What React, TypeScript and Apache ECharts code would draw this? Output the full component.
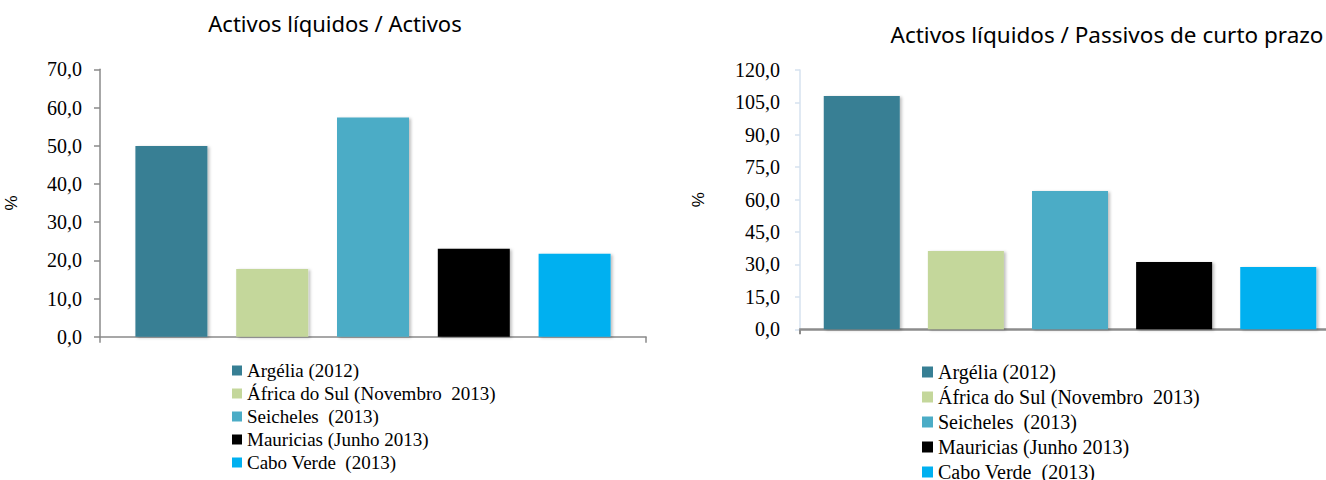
import React, { useEffect, useRef } from "react";
import * as echarts from "echarts";

const seriesNames = [
  "Argélia (2012)",
  "África do Sul (Novembro  2013)",
  "Seicheles  (2013)",
  "Mauricias (Junho 2013)",
  "Cabo Verde  (2013)",
];
const seriesColors = ["#377f94", "#c4d79b", "#4bacc6", "#000000", "#00b0f0"];
const categories = [""];
const liquidToAssets = [49.9, 17.7, 57.4, 23.0, 21.7];
const liquidToShortTerm = [108.0, 36.2, 64.0, 31.1, 28.8];
const titles = ["Activos líquidos / Activos", "Activos líquidos / Passivos de curto prazo"];
const yLeft = { min: 0, max: 70, interval: 10 };
const yRight = { min: 0, max: 120, interval: 15 };

const fmt = (v: number) => v.toFixed(1).replace(".", ",");

export default function App() {
  const ref = useRef<HTMLDivElement>(null);
  useEffect(() => {
    if (!ref.current) return;
    const chart = echarts.init(ref.current, null, { renderer: "svg" });
    const serif = "Liberation Serif";
    const mkSeries = (vals: number[], idx: number, bw: number, gap: string) =>
      vals.map((v, i) => ({
        type: "bar",
        name: seriesNames[i],
        xAxisIndex: idx,
        yAxisIndex: idx,
        data: [v],
        barWidth: bw,
        barGap: gap,
        itemStyle: {
          color: seriesColors[i],
          shadowColor: "rgba(0,0,0,0.25)",
          shadowBlur: 3,
          shadowOffsetX: 2,
          shadowOffsetY: 1,
        },
      }));
    chart.setOption({
      animation: false,
      grid: [
        { left: 100, top: 69.3, width: 546, height: 267.4 },
        { left: 800, top: 70, width: 540, height: 259.3 },
      ],
      xAxis: [
        {
          type: "category",
          gridIndex: 0,
          data: categories,
          axisLine: { lineStyle: { color: "#8a8a8a", width: 1.5 } },
          axisTick: { show: true, length: 6, lineStyle: { color: "#8a8a8a", width: 1.5 } },
          axisLabel: { show: false },
        },
        {
          type: "category",
          gridIndex: 1,
          data: categories,
          axisLine: { lineStyle: { color: "#8c8c8c", width: 2.5 } },
          axisTick: { show: true, length: 5, lineStyle: { color: "#8c8c8c", width: 2 } },
          axisLabel: { show: false },
        },
      ],
      yAxis: [
        {
          type: "value",
          gridIndex: 0,
          ...yLeft,
          name: "%",
          nameLocation: "middle",
          nameRotate: 90,
          nameGap: 80,
          nameTextStyle: { fontFamily: "Liberation Sans", fontSize: 17, color: "#000" },
          axisLine: { show: true, lineStyle: { color: "#8a8a8a", width: 1.5 } },
          axisTick: { show: true, length: 6, lineStyle: { color: "#8a8a8a", width: 1.5 } },
          splitLine: { show: false },
          axisLabel: { formatter: fmt, fontFamily: serif, fontSize: 20, color: "#000", margin: 18 },
        },
        {
          type: "value",
          gridIndex: 1,
          ...yRight,
          name: "%",
          nameLocation: "middle",
          nameRotate: 90,
          nameGap: 93,
          nameTextStyle: { fontFamily: "Liberation Sans", fontSize: 17, color: "#000" },
          axisLine: { show: true, lineStyle: { color: "#d6e2ef", width: 1.5 } },
          axisTick: { show: true, length: 5, lineStyle: { color: "#d6e2ef", width: 1.5 } },
          splitLine: { show: false },
          axisLabel: { formatter: fmt, fontFamily: serif, fontSize: 20, color: "#000", margin: 20 },
        },
      ],
      legend: [
        {
          orient: "vertical",
          left: 227,
          top: 356,
          itemWidth: 10,
          itemHeight: 10,
          itemGap: 4,
          icon: "rect",
          data: seriesNames,
          textStyle: { fontFamily: serif, fontSize: 19, lineHeight: 19, color: "#000" },
          selectedMode: false,
        },
        {
          orient: "vertical",
          left: 917,
          top: 357,
          itemWidth: 11,
          itemHeight: 11,
          itemGap: 5,
          icon: "rect",
          data: seriesNames,
          textStyle: { fontFamily: serif, fontSize: 20, lineHeight: 20, color: "#000" },
          selectedMode: false,
        },
      ],
      graphic: [
        {
          type: "text",
          x: 335,
          y: 23,
          style: {
            text: titles[0],
            font: '22px "Noto Sans"',
            fill: "#000",
            textAlign: "center",
            textVerticalAlign: "middle",
          },
        },
        {
          type: "text",
          x: 1107,
          y: 34,
          style: {
            text: titles[1],
            font: '22.5px "Noto Sans"',
            fill: "#000",
            textAlign: "center",
            textVerticalAlign: "middle",
          },
        },
      ],
      series: [
        ...mkSeries(liquidToAssets, 0, 72, "40%"),
        ...mkSeries(liquidToShortTerm, 1, 76, "37%"),
      ],
    });
    return () => chart.dispose();
  }, []);
  return (
    <div
      ref={ref}
      style={{ position: "fixed", left: 0, top: 0, width: 1360, height: 520, background: "#fff" }}
    />
  );
}
